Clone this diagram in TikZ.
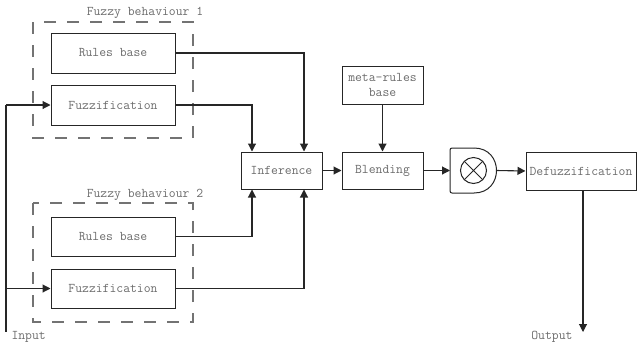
\documentclass[tikz,border=0pt]{standalone}
\usepackage{fontspec}
\usetikzlibrary{arrows.meta,calc}
\definecolor{txtgray}{gray}{0.42}
\definecolor{dashgray}{gray}{0.45}
\begin{document}
\begin{tikzpicture}[x=1pt,y=-1pt,
  every node/.style={font=\ttfamily\fontsize{13.3}{14.5}\selectfont, text=txtgray},
  blockbox/.style={draw=black!85, line width=1pt, minimum width=124pt, minimum height=40pt, inner sep=0pt},
  smallbox/.style={draw=black!85, line width=1pt, minimum width=81pt, minimum height=37pt, inner sep=0pt, align=center},
  groupbox/.style={draw=dashgray, line width=1.2pt, dash pattern=on 12pt off 11pt},
  arr/.style={line width=1.1pt, draw=black!85, -{Triangle[length=8pt,width=8pt]}},
  wire/.style={line width=1.1pt, draw=black!85}]
\useasboundingbox (0,0) rectangle (637,349);

% fuzzy behaviour groups
\draw[groupbox] (33,22) rectangle (193,138);
\draw[groupbox] (33,203) rectangle (193,322);
\node (g1) at (145,13) {Fuzzy behaviour 1};
\node (g2) at (145,195) {Fuzzy behaviour 2};

% blocks
\node[blockbox] (rb1) at (113,53) {Rules base};
\node[blockbox] (fz1) at (113,105) {Fuzzification};
\node[blockbox, minimum height=39pt] (rb2) at (113,236.5) {Rules base};
\node[blockbox, minimum height=39pt] (fz2) at (113,288.5) {Fuzzification};
\node[smallbox] (inf) at (281.5,170.5) {Inference};
\node[smallbox] (bl) at (382.5,170.5) {Blending};
\node[smallbox, minimum height=38pt] (meta) at (382.5,85) {meta-rules\\base};
\node[smallbox, minimum width=110pt, minimum height=38pt] (defz) at (581,171) {Defuzzification};

% product block: flat left side, round right side, crossed circle inside
\coordinate (prod) at (473.5,170.5);
\draw[line width=1pt, draw=black!85, rounded corners=2pt]
  (474,193) -- (450,193) -- (450,148) -- (474,148);
\draw[line width=1pt, draw=black!85]
  (474,148) .. controls (504,148) and (504,193) .. (474,193);
\draw[line width=1pt, draw=black!85] (prod) circle[radius=13pt];
\draw[line width=1pt, draw=black!85] ($(prod)+(-9.2,-9.2)$) -- ($(prod)+(9.2,9.2)$)
  ($(prod)+(-9.2,9.2)$) -- ($(prod)+(9.2,-9.2)$);
\coordinate (prodw) at (450,170.5);
\coordinate (prode) at (496.5,170.5);

% input
\coordinate (intop) at (6,105);
\coordinate (inbot) at (6,332);
\draw[wire] (intop) -- (inbot);
\draw[arr] (intop) -- (fz1.west);
\draw[arr] (inbot |- fz2.west) -- (fz2.west);
\node[anchor=north west] (inlbl) at (8,328) {Input};

% into inference
\draw[arr] (rb1.east) -| ($(inf.north)+(22.5,0)$);
\draw[arr] (fz1.east) -| ($(inf.north)+(-29.5,0)$);
\draw[arr] (rb2.east) -| ($(inf.south)+(-29.5,0)$);
\draw[arr] (fz2.east) -| ($(inf.south)+(22.5,0)$);

% main chain
\draw[arr] (inf.east) -- (bl.west);
\draw[arr] (meta.south) -- (bl.north);
\draw[arr] (bl.east) -- (prodw);
\draw[arr] (prode) -- (defz.west);

% output
\coordinate (outtop) at (583,190);
\coordinate (outbot) at (583,332);
\draw[arr] (outtop) -- (outbot);
\node[anchor=north east] (outlbl) at (576,328) {Output};
\end{tikzpicture}
\end{document}
